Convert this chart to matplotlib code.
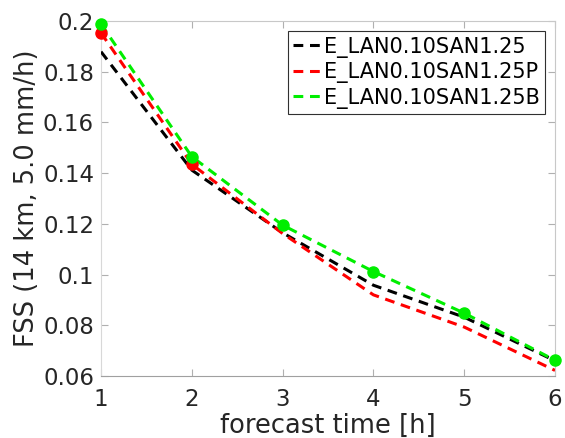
import matplotlib
matplotlib.use("Agg")
import matplotlib.pyplot as plt
import numpy as np

# forecast lead times and FSS values per experiment
lead_hours = [1, 2, 3, 4, 5, 6]
fss_ref = [0.1879, 0.1412, 0.1165, 0.0958, 0.0832, 0.0660]
fss_p = [0.1953, 0.1435, 0.1162, 0.0920, 0.0793, 0.0622]
fss_b = [0.1988, 0.1465, 0.1195, 0.1012, 0.0848, 0.0662]
names = ["E_LAN0.10SAN1.25", "E_LAN0.10SAN1.25P", "E_LAN0.10SAN1.25B"]
colors = ["black", "#ff0000", "#00ee00"]
# which lead times get a dot (significant points)
dots_ref = []
dots_p = [0, 1]
dots_b = [0, 1, 2, 3, 4, 5]

fig = plt.figure(figsize=(5.65, 4.38), dpi=100)
ax = fig.add_axes([101 / 565, 1 - 376 / 438, 454 / 565, 355 / 438])

for y, dots, c, name in zip([fss_ref, fss_p, fss_b], [dots_ref, dots_p, dots_b], colors, names):
    ax.plot(lead_hours, y, ls=(0, (3.2, 2.2)), lw=2.2, color=c, label=name, zorder=3)
    if dots:
        ax.plot(np.array(lead_hours)[dots], np.array(y)[dots], "o", ms=8, color=c,
                zorder=4, clip_on=False)

ax.set_xlim(1, 6)
ax.set_ylim(0.06, 0.2)
ax.set_xticks(lead_hours)
ax.set_yticks([0.06, 0.08, 0.1, 0.12, 0.14, 0.16, 0.18, 0.2])
ax.set_yticklabels(["0.06", "0.08", "0.1", "0.12", "0.14", "0.16", "0.18", "0.2"])
ax.tick_params(direction="in", length=5, width=0.8, color="#b0b0b0", labelsize=16.5,
               labelcolor="#262626", top=True, right=True, pad=5)
ax.tick_params(axis="x", pad=9)
for s in ax.spines.values():
    s.set_color("#c8c8c8")
    s.set_linewidth(0.8)
ax.spines["bottom"].set_color("#a0a0a0")
ax.spines["left"].set_color("#d8d8d8")

ax.set_xlabel("forecast time [h]", fontsize=18.5, color="#262626", labelpad=1)
ax.set_ylabel("FSS (14 km, 5.0 mm/h)", fontsize=18.5, color="#262626", labelpad=2)

leg = ax.legend(loc="upper right", fontsize=15, handlelength=1.4, handletextpad=0.05,
                borderpad=0.25, labelspacing=0.22, borderaxespad=0.5, fancybox=False,
                framealpha=1, edgecolor="#303030")
leg.get_frame().set_linewidth(0.8)

fig.savefig("out.png", dpi=100)
